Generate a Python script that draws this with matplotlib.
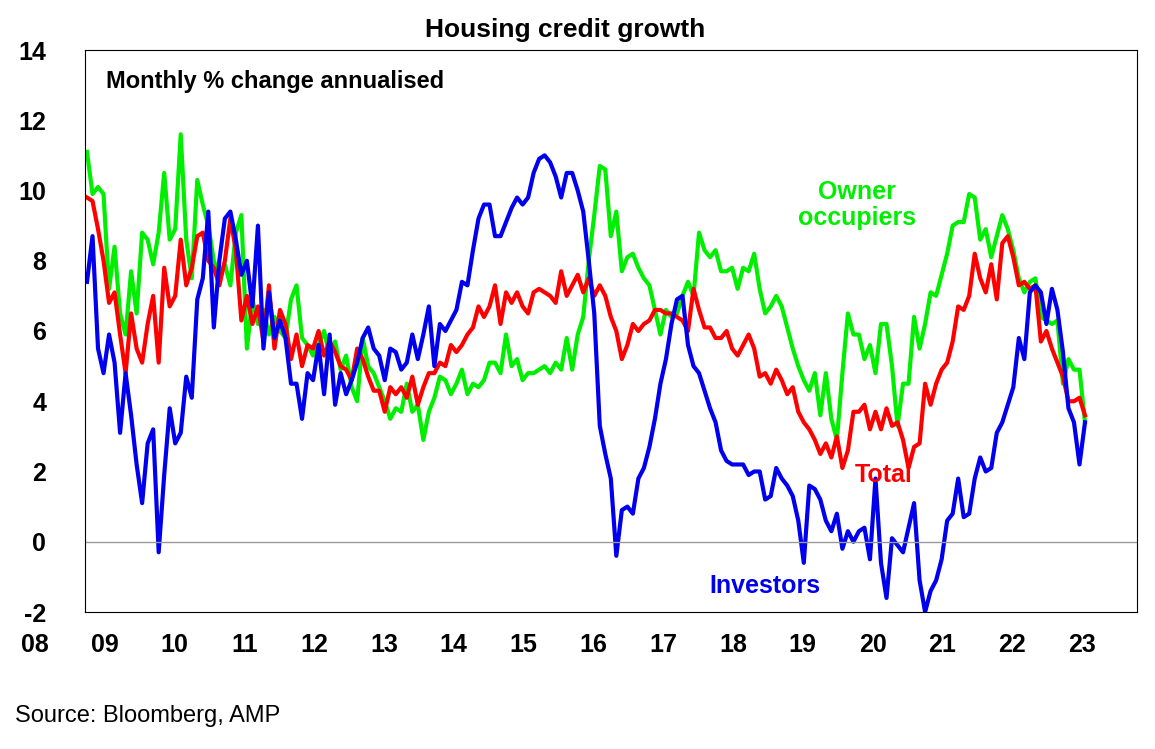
import numpy as np
import matplotlib
matplotlib.use("Agg")
import matplotlib.pyplot as plt

plt.rcParams['font.family'] = ['Liberation Sans', 'DejaVu Sans']
plt.rcParams['axes.unicode_minus'] = False

owner = [11.1, 9.9, 10.1, 9.9, 7.2, 8.4, 6.5, 5.9, 7.7, 6.5, 8.8, 8.6,
         7.9, 8.8, 10.5, 8.6, 8.9, 11.6, 8.6, 7.5, 10.3, 9.6, 9.0, 8.0,
         7.6, 7.9, 7.3, 8.8, 9.3, 5.5, 6.9, 6.2, 6.6, 5.9, 6.4, 6.0,
         5.8, 6.9, 7.3, 5.8, 5.6, 5.3, 5.6, 6.0, 5.3, 5.7, 4.9, 5.3,
         4.4, 4.0, 5.8, 5.0, 4.8, 4.4, 4.0, 3.5, 3.8, 3.7, 4.5, 3.7,
         3.9, 2.9, 3.7, 4.1, 4.7, 4.6, 4.2, 4.5, 4.9, 4.2, 4.5, 4.4,
         4.6, 5.1, 5.1, 4.8, 5.9, 5.0, 5.2, 4.6, 4.8, 4.8, 4.9, 5.0,
         4.8, 5.1, 4.9, 5.8, 4.9, 5.9, 6.4, 8.0, 9.3, 10.7, 10.6, 8.7,
         9.4, 7.7, 8.1, 8.2, 7.8, 7.5, 7.3, 6.6, 5.9, 6.6, 6.4, 6.5,
         7.0, 7.4, 7.0, 8.8, 8.3, 8.1, 8.3, 7.7, 7.7, 7.8, 7.2, 7.8,
         7.7, 8.2, 7.2, 6.5, 6.7, 7.0, 6.7, 6.1, 5.5, 5.0, 4.6, 4.3,
         4.8, 3.6, 4.8, 3.5, 2.9, 4.8, 6.5, 5.9, 5.9, 5.2, 5.6, 4.8,
         6.2, 6.2, 5.0, 3.3, 4.5, 4.5, 6.4, 5.5, 6.2, 7.1, 7.0, 7.6,
         8.2, 9.0, 9.1, 9.1, 9.9, 9.8, 8.6, 8.9, 8.1, 8.7, 9.3, 8.9,
         8.3, 7.5, 7.1, 7.4, 7.5, 6.4, 6.3, 6.2, 6.3, 4.5, 5.2, 4.9,
         4.9, 3.4]

total = [9.8, 9.7, 8.9, 8.0, 6.8, 7.1, 5.9, 4.8, 6.5, 5.5, 5.1, 6.2,
         7.0, 5.1, 7.8, 6.7, 7.0, 8.6, 7.3, 7.8, 8.7, 8.8, 8.0, 7.8,
         7.3, 8.0, 9.2, 8.3, 6.3, 7.0, 6.2, 6.7, 5.7, 7.3, 5.5, 6.6,
         6.2, 5.2, 5.9, 5.0, 5.6, 5.5, 6.0, 5.3, 5.7, 5.4, 5.0, 4.9,
         4.6, 5.5, 5.2, 4.7, 4.3, 4.3, 3.7, 4.4, 4.2, 4.4, 4.1, 4.7,
         3.9, 4.4, 4.8, 4.8, 5.1, 5.0, 5.6, 5.4, 5.6, 5.9, 6.1, 6.7,
         6.4, 6.7, 7.3, 6.2, 7.1, 6.8, 7.1, 6.7, 6.5, 7.1, 7.2, 7.1,
         7.0, 6.8, 7.7, 7.0, 7.3, 7.6, 7.1, 7.5, 7.0, 7.3, 7.0, 6.4,
         6.0, 5.2, 5.6, 6.2, 6.0, 6.2, 6.3, 6.6, 6.6, 6.5, 6.5, 6.4,
         6.3, 6.0, 7.2, 6.6, 6.1, 6.1, 5.8, 5.8, 6.0, 5.5, 5.3, 5.6,
         5.9, 5.5, 4.7, 4.8, 4.5, 4.9, 4.6, 4.2, 4.4, 3.7, 3.4, 3.2,
         2.9, 2.5, 2.8, 2.4, 3.0, 2.1, 2.6, 3.7, 3.7, 3.9, 3.2, 3.7,
         3.2, 3.8, 3.3, 3.4, 2.9, 2.1, 2.7, 2.8, 4.5, 3.9, 4.5, 4.9,
         5.1, 5.7, 6.7, 6.6, 7.0, 8.2, 7.5, 7.1, 7.9, 6.9, 8.5, 8.7,
         8.1, 7.3, 7.4, 7.2, 7.3, 5.7, 6.0, 5.5, 5.1, 4.7, 4.0, 4.0,
         4.1, 3.6]

investors = [7.4, 8.7, 5.5, 4.8, 5.9, 5.1, 3.1, 4.8, 3.6, 2.2, 1.1, 2.8,
             3.2, -0.3, 1.9, 3.8, 2.8, 3.1, 4.7, 4.1, 6.9, 7.5, 9.4, 6.1,
             8.0, 9.2, 9.4, 8.6, 7.6, 8.0, 6.7, 9.0, 5.5, 7.1, 5.8, 6.3,
             5.8, 4.5, 4.5, 3.5, 4.8, 4.6, 5.6, 4.2, 5.9, 3.9, 4.8, 4.2,
             4.6, 5.1, 5.8, 6.1, 5.5, 5.3, 4.6, 5.5, 5.4, 4.9, 5.1, 5.9,
             5.2, 5.9, 6.7, 5.0, 6.2, 6.0, 6.3, 6.6, 7.4, 7.3, 8.3, 9.2,
             9.6, 9.6, 8.7, 8.7, 9.1, 9.5, 9.8, 9.6, 9.8, 10.5, 10.9, 11.0,
             10.8, 10.4, 9.8, 10.5, 10.5, 10.0, 9.4, 8.0, 6.5, 3.3, 2.5, 1.8,
             -0.4, 0.9, 1.0, 0.8, 1.8, 2.1, 2.7, 3.5, 4.5, 5.2, 6.2, 6.9,
             7.0, 5.6, 5.0, 4.8, 4.3, 3.8, 3.4, 2.6, 2.3, 2.2, 2.2, 2.2,
             1.9, 2.0, 2.0, 1.2, 1.3, 2.1, 1.8, 1.6, 1.3, 0.6, -0.6, 1.6,
             1.5, 1.2, 0.6, 0.3, 0.8, -0.2, 0.3, 0.0, 0.3, 0.4, -0.5, 1.8,
             -0.6, -1.6, 0.1, -0.1, -0.3, 0.4, 1.1, -1.1, -2.0, -1.4, -1.1, -0.5,
             0.6, 0.8, 1.8, 0.7, 0.8, 1.8, 2.4, 2.0, 2.1, 3.1, 3.4, 3.9,
             4.4, 5.8, 5.2, 7.1, 7.3, 7.1, 6.2, 7.2, 6.6, 5.4, 3.8, 3.4,
             2.2, 3.4]

year_labels = ['08', '09', '10', '11', '12', '13', '14', '15', '16', '17',
               '18', '19', '20', '21', '22', '23']

n = len(total)
x = np.arange(n)
pxm = 998 / (n - 1)  # pixels per month

fig = plt.figure(figsize=(11.55, 7.49), dpi=100)
ax = fig.add_axes([85 / 1155, 137 / 749, 1052 / 1155, 562 / 749])

ax.plot(x, owner, color='#00ee00', lw=3)
ax.plot(x, total, color='#ff0000', lw=3)
ax.plot(x, investors, color='#0000ee', lw=3)

ax.set_xlim(-2 / pxm, (1137 - 87) / pxm)
ax.set_ylim(-2, 14)
ax.axhline(0, color='#999999', lw=1)
ax.set_yticks(range(-2, 15, 2))
ax.set_xticks([])
ax.tick_params(axis='y', length=0, labelsize=18, pad=28)
for lab in ax.get_yticklabels():
    lab.set_fontweight('bold')
for s in ax.spines.values():
    s.set_color('black')

for i, lab in enumerate(year_labels):
    px = 35 + 69.8 * i
    ax.text((px - 87) / pxm, -2.6, lab, ha='center', va='top',
            fontsize=18, fontweight='bold', clip_on=False)

ax.text(0.02, 0.965, 'Monthly % change annualised', transform=ax.transAxes,
        fontsize=17, fontweight='bold', va='top')
ax.text((857 - 87) / pxm, 9.6, 'Owner\noccupiers', color='#00ee00',
        fontsize=18, fontweight='bold', ha='center', va='center', linespacing=1.1)
ax.text((884 - 87) / pxm, 1.9, 'Total', color='#ff0000',
        fontsize=18, fontweight='bold', ha='center', va='center')
ax.text((765 - 87) / pxm, -1.25, 'Investors', color='#0000ee',
        fontsize=18, fontweight='bold', ha='center', va='center')

fig.text(565 / 1155, 1 - 30 / 749, 'Housing credit growth', ha='center',
         va='center', fontsize=19, fontweight='bold')
fig.text(15 / 1155, 1 - 716 / 749, 'Source: Bloomberg, AMP', ha='left',
         va='center', fontsize=17)

fig.savefig('out.png', dpi=100)
